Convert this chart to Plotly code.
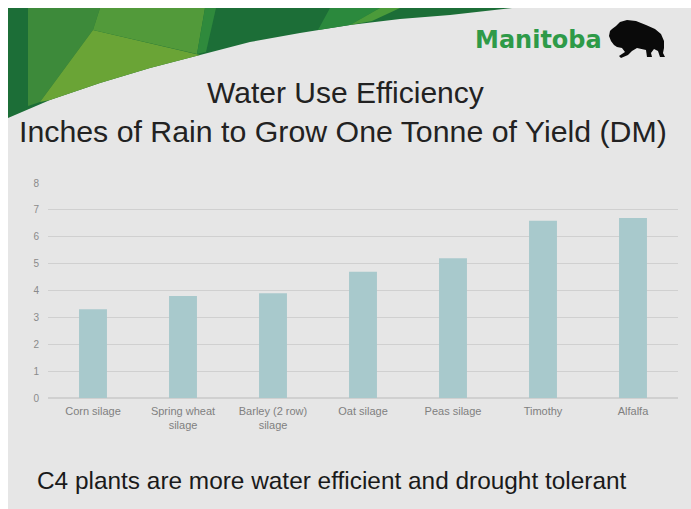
import plotly.graph_objects as go

# ---- data ----
categories = ["Corn silage", "Spring wheat<br>silage", "Barley (2 row)<br>silage",
              "Oat silage", "Peas silage", "Timothy", "Alfalfa"]
values = [3.3, 3.8, 3.9, 4.7, 5.2, 6.6, 6.7]
y_ticks = [0, 1, 2, 3, 4, 5, 6, 7, 8]

title1 = "Water Use Efficiency"
title2 = "Inches of Rain to Grow One Tonne of Yield (DM)"
caption = "C4 plants are more water efficient and drought tolerant"
logo_text = "Manitoba"

W, H = 691, 509
ML, MR, MT, MB = 48, 13, 183, 111

def px(x):
    return (x - ML) / (W - ML - MR)

def py(y):
    return (H - MB - y) / (H - MT - MB)

def path(points):
    return "M " + " L ".join(f"{px(x):.5f},{py(y):.5f}" for x, y in points) + " Z"

curve = [(512, 8), (450, 15), (400, 19), (350, 25), (300, 33), (250, 42), (200, 55),
         (150, 68), (100, 83), (50, 100), (8, 118)]

shapes = []
# slide background
shapes.append(dict(type="rect", xref="paper", yref="paper", x0=px(8), x1=px(691),
                   y0=py(509), y1=py(8), fillcolor="#e6e6e6", line_width=0, layer="below"))
# green header base
shapes.append(dict(type="path", xref="paper", yref="paper",
                   path=path([(8, 8)] + curve), fillcolor="#1c6e37", line_width=0, layer="below"))
facets = [
    ([(28, 8), (100, 8), (93, 30), (40, 102), (28, 106)], "#3d8a3a"),
    ([(93, 30), (200, 55), (150, 68), (100, 83), (50, 100), (40, 102)], "#6aa436"),
    ([(100, 8), (205, 8), (197, 54), (93, 30)], "#529a3a"),
    ([(205, 8), (216, 8), (206, 52), (197, 54)], "#2f8a3c"),
    ([(330, 8), (380, 8), (350, 25), (318, 30)], "#2b893d"),
    ([(380, 8), (400, 8), (372, 21), (350, 25)], "#4b9b3a"),
]
for pts, col in facets:
    shapes.append(dict(type="path", xref="paper", yref="paper", path=path(pts),
                       fillcolor=col, line_width=0, layer="below"))
# bison silhouette (head at left, hump, sloping back)
bison = [(612, 29), (616, 26), (620, 22), (627, 20), (636, 21), (646, 25), (655, 29),
         (661, 34), (664, 41), (664, 48), (663, 53), (665, 57), (660, 57), (658, 51),
         (654, 49), (651, 53), (652, 57), (647, 57), (646, 50), (637, 48), (632, 51),
         (628, 55), (621, 58), (619, 56), (625, 52), (622, 48), (617, 47), (614, 45),
         (611, 41), (609, 36), (610, 31)]
shapes.append(dict(type="path", xref="paper", yref="paper", path=path(bison),
                   fillcolor="#0a0a0a", line_width=0, layer="above"))

fig = go.Figure()
fig.add_trace(go.Bar(x=categories, y=values, marker_color="#a8c9cc", width=0.31,
                     marker_line_width=0))

annotations = [
    dict(text=title1, x=px(345), y=py(93), xref="paper", yref="paper", showarrow=False,
         font=dict(family="Liberation Sans, Arial", size=30, color="#222222"),
         xanchor="center", yanchor="middle"),
    dict(text=title2, x=px(343), y=py(131), xref="paper", yref="paper", showarrow=False,
         font=dict(family="Liberation Sans, Arial", size=30.3, color="#222222"),
         xanchor="center", yanchor="middle"),
    dict(text=caption, x=px(35), y=py(480), xref="paper", yref="paper", showarrow=False,
         font=dict(family="Liberation Sans, Arial", size=24.4, color="#1a1a1a"),
         xanchor="left", yanchor="middle"),
    dict(text="<b>" + logo_text + "</b>", x=px(538), y=py(40), xref="paper", yref="paper",
         showarrow=False, font=dict(family="DejaVu Sans", size=24, color="#2e9a48"),
         xanchor="center", yanchor="middle"),
]

fig.update_layout(
    width=W, height=H,
    margin=dict(l=ML, r=MR, t=MT, b=MB, pad=0),
    paper_bgcolor="white", plot_bgcolor="rgba(0,0,0,0)",
    showlegend=False, bargap=0.69,
    shapes=shapes, annotations=annotations,
    font=dict(family="Liberation Sans, Arial", color="#808080", size=11),
)
fig.update_xaxes(showgrid=False, showline=False, zeroline=False, ticks="",
                 tickfont=dict(size=11, color="#808080"), fixedrange=True,
                 ticklabelstandoff=5)
fig.update_yaxes(range=[0, 8], tickvals=y_ticks, showgrid=True, gridcolor="#d0d0d0",
                 gridwidth=1, zeroline=True, zerolinecolor="#d0d0d0", showline=False,
                 ticks="", tickfont=dict(size=10, color="#8a8a8a"), ticklabelstandoff=8)

fig.write_html("out.html")
